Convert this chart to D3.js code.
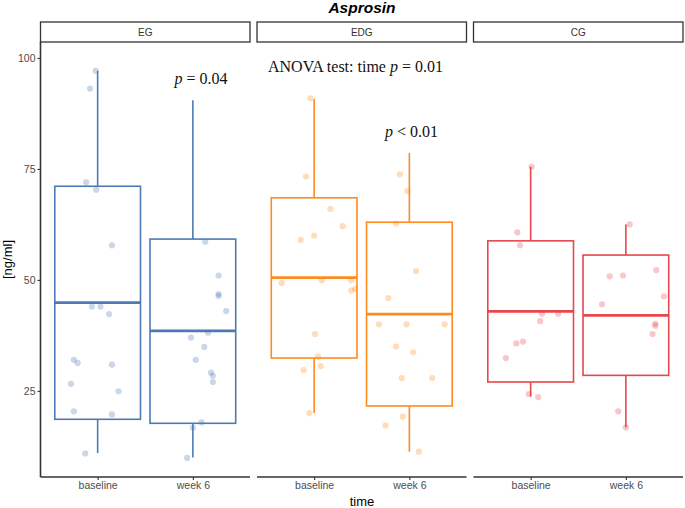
<!DOCTYPE html>
<html><head><meta charset="utf-8">
<script src="https://cdn.jsdelivr.net/npm/d3@7"></script>
<style>body{margin:0;background:#fff}</style>
</head><body>
<script>
const groups = ["EG", "EDG", "CG"];
const times = ["baseline", "week 6"];
const colors = ["#4d7ab5", "#ff8b1f", "#e8474c"];
const yTicks = [25, 50, 75, 100];

// box stats [group][time]: whisker low, q1, median, q3, whisker high
const boxLow  = [[11.0, 10.0], [20.0, 11.3], [23.7, 16.8]];
const boxQ1   = [[18.6, 17.7], [32.4, 21.6], [27.0, 28.5]];
const boxMed  = [[44.9, 38.5], [50.5, 42.3], [42.9, 42.0]];
const boxQ3   = [[71.1, 59.2], [68.5, 63.0], [58.8, 55.6]];
const boxHigh = [[97.1, 90.5], [90.8, 78.6], [75.5, 62.5]];

// observations: values and horizontal jitter (category units)
const egBaseVals = [97.1, 93.1, 72.0, 70.3, 57.8, 44.0, 44.0, 42.3, 32.0, 31.3, 30.9, 26.6, 24.9, 20.4, 19.7, 10.9];
const egBaseJit  = [-0.02, -0.08, -0.12, -0.015, 0.15, -0.06, 0.03, 0.12, -0.25, -0.21, 0.15, -0.28, 0.22, -0.25, 0.15, -0.13];
const egW6Vals   = [58.6, 51.0, 46.8, 46.4, 43.0, 38.1, 37.0, 34.9, 32.0, 29.1, 28.4, 27.0, 17.9, 16.7, 9.9];
const egW6Jit    = [0.13, 0.27, 0.27, 0.27, 0.35, 0.16, -0.02, 0.12, 0.03, 0.19, 0.21, 0.21, 0.09, 0.0, -0.06];
const edgBaseVals = [90.9, 73.3, 66.0, 62.1, 60.0, 59.0, 49.9, 49.3, 49.9, 48.0, 47.6, 37.8, 32.7, 30.6, 29.7, 20.0];
const edgBaseJit  = [-0.04, -0.085, 0.17, 0.30, 0.0, -0.14, 0.08, -0.34, 0.39, 0.43, 0.39, 0.01, 0.04, 0.07, -0.11, -0.05];
const edgW6Vals   = [73.8, 70.0, 62.7, 52.0, 45.9, 40.0, 40.0, 40.0, 35.0, 33.7, 27.9, 27.9, 19.2, 17.2, 11.3];
const edgW6Jit    = [-0.10, -0.02, -0.14, 0.07, -0.22, -0.32, -0.03, 0.37, -0.14, 0.04, -0.08, 0.24, -0.07, -0.25, 0.10];
const cgBaseVals = [75.5, 60.7, 57.8, 42.4, 42.4, 40.7, 36.1, 35.7, 32.4, 24.3, 23.6];
const cgBaseJit  = [0.01, -0.14, -0.11, 0.12, 0.29, 0.10, -0.08, -0.15, -0.26, -0.02, 0.08];
const cgW6Vals   = [62.5, 52.2, 51.0, 50.8, 46.3, 44.5, 40.1, 39.7, 37.8, 20.4, 16.8];
const cgW6Jit    = [0.04, 0.32, -0.03, -0.17, 0.40, -0.25, 0.31, 0.31, 0.28, -0.08, 0.0];

const pointVals = [[egBaseVals, egW6Vals], [edgBaseVals, edgW6Vals], [cgBaseVals, cgW6Vals]];
const pointJit  = [[egBaseJit, egW6Jit], [edgBaseJit, edgW6Jit], [cgBaseJit, cgW6Jit]];

const titleText = "Asprosin";
const yTitle = "[ng/ml]";
const xTitle = "time";

const W = 685, H = 508;
const svg = d3.select("body").append("svg").attr("width", W).attr("height", H)
  .style("font-family", "'Liberation Sans', Arial, sans-serif");

const panelLeft = 40.5, panelW = 209.5, gap = 7;
const panelTop = 42, panelBottom = 477, stripTop = 22;
const y = d3.scaleLinear().domain([5.6, 103.6]).range([panelBottom, panelTop]);

const panelX = d3.scaleBand().domain(groups).range([panelLeft, panelLeft + 3 * panelW + 2 * gap]).paddingInner(gap / (panelW + gap)).paddingOuter(0);

groups.forEach((g, gi) => {
  const px = panelX(g);
  const pw = panelX.bandwidth();
  // continuous positional scale for discrete categories (1,2) with 0.6 expansion
  const xc = d3.scaleLinear().domain([0.4, 2.6]).range([px, px + pw]);
  const gEl = svg.append("g");
  const col = colors[gi];

  // strip
  gEl.append("rect").attr("x", px).attr("y", stripTop).attr("width", pw).attr("height", panelTop - stripTop)
    .attr("fill", "#fff").attr("stroke", "#333").attr("stroke-width", 1.3);
  gEl.append("text").attr("x", px + pw / 2).attr("y", (stripTop + panelTop) / 2 + 3.5)
    .attr("text-anchor", "middle").attr("font-size", 10).attr("fill", "#333").text(g);

  times.forEach((t, ti) => {
    const cx = xc(ti + 1);
    const bw = xc(1.45) - xc(1);
    // whiskers
    gEl.append("line").attr("x1", cx).attr("x2", cx).attr("y1", y(boxQ3[gi][ti])).attr("y2", y(boxHigh[gi][ti]))
      .attr("stroke", col).attr("stroke-width", 1.6);
    gEl.append("line").attr("x1", cx).attr("x2", cx).attr("y1", y(boxQ1[gi][ti])).attr("y2", y(boxLow[gi][ti]))
      .attr("stroke", col).attr("stroke-width", 1.6);
    // box
    gEl.append("rect").attr("x", cx - bw).attr("width", 2 * bw)
      .attr("y", y(boxQ3[gi][ti])).attr("height", y(boxQ1[gi][ti]) - y(boxQ3[gi][ti]))
      .attr("fill", "none").attr("stroke", col).attr("stroke-width", 1.6);
    gEl.append("line").attr("x1", cx - bw).attr("x2", cx + bw).attr("y1", y(boxMed[gi][ti])).attr("y2", y(boxMed[gi][ti]))
      .attr("stroke", col).attr("stroke-width", 2.8);
    // points
    gEl.selectAll(null).data(pointVals[gi][ti]).enter().append("circle")
      .attr("cx", (d, i) => xc(ti + 1 + pointJit[gi][ti][i]))
      .attr("cy", d => y(d)).attr("r", 3.1)
      .attr("fill", col).attr("fill-opacity", 0.3);
  });

  // x axis
  const xAx = d3.axisBottom(d3.scalePoint().domain(times).range([xc(1), xc(2)])).tickSize(3).tickPadding(2);
  const ax = gEl.append("g").attr("transform", `translate(0,${panelBottom})`).call(xAx);
  ax.select(".domain").remove();
  ax.append("line").attr("x1", px).attr("x2", px + pw).attr("stroke", "#333").attr("stroke-width", 1.6);
  ax.selectAll(".tick line").attr("stroke", "#333").attr("stroke-width", 1.1);
  ax.selectAll(".tick text").attr("fill", "#4d4d4d").attr("font-size", 10.5)
    .style("font-family", "'Liberation Sans', Arial, sans-serif");
});

// y axis
const yAx = svg.append("g").attr("transform", `translate(${panelLeft},0)`)
  .call(d3.axisLeft(y).tickValues(yTicks).tickSize(3).tickPadding(2));
yAx.select(".domain").remove();
yAx.append("line").attr("y1", panelTop).attr("y2", panelBottom).attr("stroke", "#333").attr("stroke-width", 1.6);
yAx.selectAll(".tick line").attr("stroke", "#333").attr("stroke-width", 1.1);
yAx.selectAll(".tick text").attr("fill", "#4d4d4d").attr("font-size", 10.5)
  .style("font-family", "'Liberation Sans', Arial, sans-serif");

// titles
svg.append("text").attr("x", 362).attr("y", 13).attr("text-anchor", "middle")
  .attr("font-weight", "bold").attr("font-style", "italic").attr("font-size", 15.5).text(titleText);
svg.append("text").attr("transform", `translate(12,${(panelTop + panelBottom) / 2}) rotate(-90)`)
  .attr("text-anchor", "middle").attr("font-size", 13).text(yTitle);
svg.append("text").attr("x", 362).attr("y", 506).attr("text-anchor", "middle").attr("font-size", 13).text(xTitle);

// annotations
const serif = "'Liberation Serif', 'Times New Roman', serif";
function annot(x, yy, parts) {
  const t = svg.append("text").attr("x", x).attr("y", yy).attr("font-family", serif).attr("font-size", 16).attr("fill", "#111");
  parts.forEach(p => t.append("tspan").attr("font-style", p[1] ? "italic" : "normal").text(p[0]));
}
annot(174.5, 84, [["p", true], [" = 0.04", false]]);
annot(268, 72, [["ANOVA test: time ", false], ["p", true], [" = 0.01", false]]);
annot(385, 137, [["p", true], [" < 0.01", false]]);
</script>
</body></html>
